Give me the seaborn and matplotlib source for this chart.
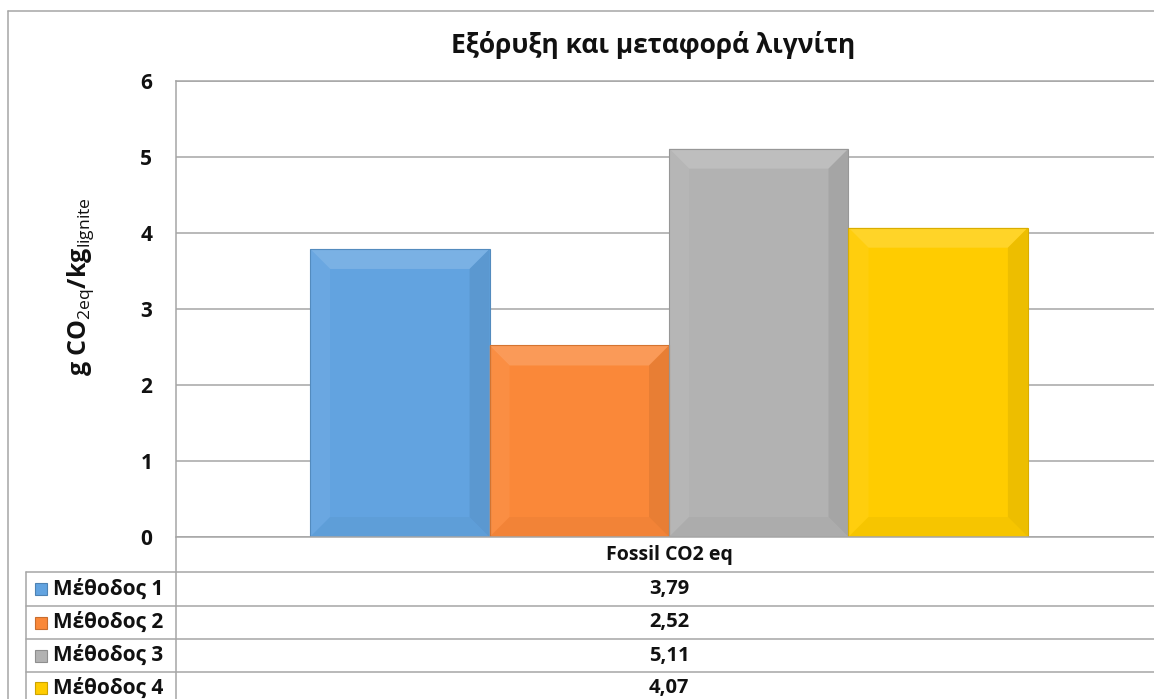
import matplotlib
matplotlib.use("Agg")
import matplotlib.pyplot as plt
from matplotlib.patches import Polygon, Rectangle
from matplotlib.lines import Line2D
import matplotlib.colors as mcolors
import seaborn as sns
import pandas as pd

# --- data ---
category = "Fossil CO2 eq"
methods = ["Μέθοδος 1", "Μέθοδος 2", "Μέθοδος 3", "Μέθοδος 4"]
values = [3.79, 2.52, 5.11, 4.07]
value_labels = ["3,79", "2,52", "5,11", "4,07"]
colors = ["#62A3E0", "#FA8839", "#B2B2B2", "#FFCC00"]
yticks = [0, 1, 2, 3, 4, 5, 6]
title = "Εξόρυξη και μεταφορά λιγνίτη"

df = pd.DataFrame({"category": [category] * len(methods),
                   "method": methods, "value": values})

sns.set_theme(style="white")
plt.rcParams["font.family"] = ["Open Sans", "DejaVu Sans"]
plt.rcParams["mathtext.fontset"] = "custom"
plt.rcParams["mathtext.rm"] = "Open Sans"
plt.rcParams["mathtext.bf"] = "Open Sans:bold"

W, H = 1154, 699
fig = plt.figure(figsize=(W / 100, H / 100), dpi=100)
fig.patch.set_facecolor("white")

def fx(px):
    return px / W

def fy(py):
    return 1 - py / H

# plot area (extends slightly past the right edge of the figure)
left_px, right_px, top_px, bottom_px = 176, 1162, 81, 537
ax = fig.add_axes([fx(left_px), fy(bottom_px),
                   (right_px - left_px) / W, (bottom_px - top_px) / H])

sns.barplot(data=df, x="category", y="value", hue="method",
            palette=colors, width=0.728, gap=0, dodge=True, ax=ax,
            legend=False, saturation=1, edgecolor="none")

ax.set_ylim(0, 6)
ax.set_xlim(-0.5, 0.5)
ax.set_yticks(yticks)
ax.set_yticklabels([str(t) for t in yticks], fontsize=15, fontweight="bold",
                   color="#111111")
ax.tick_params(axis="y", length=0, pad=17)
ax.set_xticks([])
ax.set_xlabel("")
ax.set_ylabel("")
ax.yaxis.grid(True, color="#A6A6A6", linewidth=1.1)
ax.set_axisbelow(True)
for s in ["right", "bottom"]:
    ax.spines[s].set_visible(False)
ax.spines["left"].set_color("#A6A6A6")
ax.spines["top"].set_color("#A6A6A6")
ax.spines["left"].set_linewidth(1.1)
ax.spines["top"].set_linewidth(1.1)

# bevel shading on each bar, derived from the drawn patches
fig.canvas.draw()
bev_px = 20
inv = ax.transData.inverted()
for patch, col in zip(ax.patches, colors):
    x0, y0 = patch.get_x(), patch.get_y()
    x1, y1 = x0 + patch.get_width(), y0 + patch.get_height()
    p0 = ax.transData.transform((x0, y0))
    p1 = ax.transData.transform((x1, y1))
    d = min(bev_px, (p1[1] - p0[1]) / 2)
    i0 = inv.transform((p0[0] + d, p0[1] + d))
    i1 = inv.transform((p1[0] - d, p1[1] - d))
    base = mcolors.to_rgb(col)
    light = tuple(min(1, c + (1 - c) * 0.35) for c in base)
    lite2 = tuple(min(1, c + (1 - c) * 0.12) for c in base)
    dark = tuple(c * 0.85 for c in base)
    dark2 = tuple(c * 0.93 for c in base)
    faces = [
        ([(x0, y1), (x1, y1), (i1[0], i1[1]), (i0[0], i1[1])], light),
        ([(x0, y0), (x0, y1), (i0[0], i1[1]), (i0[0], i0[1])], lite2),
        ([(x1, y0), (x1, y1), (i1[0], i1[1]), (i1[0], i0[1])], dark),
        ([(x0, y0), (x1, y0), (i1[0], i0[1]), (i0[0], i0[1])], dark2),
    ]
    for pts, fc in faces:
        ax.add_patch(Polygon(pts, closed=True, facecolor=fc, edgecolor="none",
                             alpha=0.45, zorder=patch.get_zorder() + 0.1))
    ax.add_patch(Rectangle((x0, y0), x1 - x0, y1 - y0, facecolor="none",
                           edgecolor=dark, linewidth=0.8,
                           zorder=patch.get_zorder() + 0.2))

# y-axis label
fig.text(fx(80), fy(287), r"g CO$_{\rm 2eq}$/kg$_{\rm lignite}$",
         rotation=90, ha="center", va="center", fontsize=18,
         fontweight="bold", color="#111111")

# title
fig.text(fx(653), fy(45), title, ha="center", va="center", fontsize=19,
         fontweight="bold", color="#111111")

# outer chart border
grey = "#A6A6A6"
fig.add_artist(Line2D([fx(8), fx(8)], [fy(11), 0], color=grey, lw=1.1))
fig.add_artist(Line2D([fx(8), 1], [fy(11), fy(11)], color=grey, lw=1.1))

# data table
row_lines = [572, 606, 639, 672]
fig.add_artist(Line2D([fx(176), 1], [fy(537), fy(537)], color=grey, lw=1.1))
for r in row_lines:
    fig.add_artist(Line2D([fx(26), 1], [fy(r), fy(r)], color=grey, lw=1.1))
fig.add_artist(Line2D([fx(26), fx(26)], [fy(572), 0], color=grey, lw=1.1))
fig.add_artist(Line2D([fx(176), fx(176)], [fy(537), 0], color=grey, lw=1.1))

cx = fx(669)
fig.text(cx, fy(555), category, ha="center", va="center", fontsize=14,
         fontweight="bold", color="#111111")
row_centers = [589, 622.5, 655.5, 688]
for yc, m, lab, col in zip(row_centers, methods, value_labels, colors):
    fig.text(cx, fy(yc), lab, ha="center", va="center", fontsize=14.5,
             fontweight="bold", color="#111111")
    fig.text(fx(53), fy(yc), m, ha="left", va="center", fontsize=15,
             fontweight="bold", color="#111111")
    base = mcolors.to_rgb(col)
    fig.add_artist(Rectangle((fx(35), fy(yc + 6)), 12 / W, 12 / H,
                             facecolor=col,
                             edgecolor=tuple(c * 0.8 for c in base),
                             linewidth=0.8, transform=fig.transFigure))

fig.savefig("out.png", dpi=100, facecolor="white")
